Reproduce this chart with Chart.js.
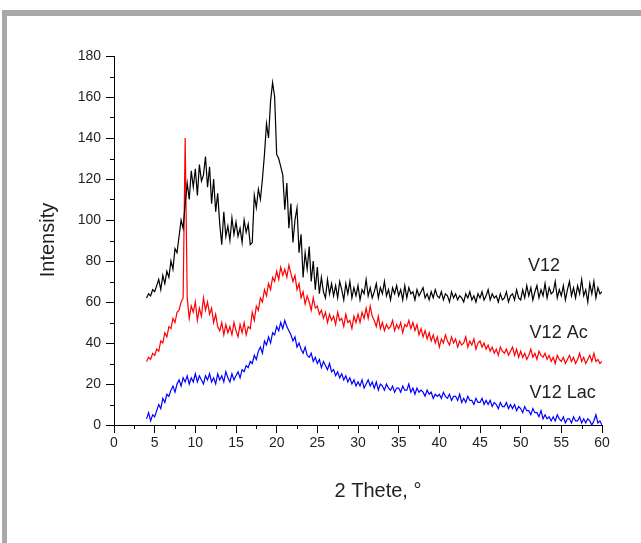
<!DOCTYPE html>
<html>
<head>
<meta charset="utf-8">
<script src="https://cdn.jsdelivr.net/npm/chart.js@4"></script>
<style>
    html, body { margin: 0; padding: 0; background: #ffffff; }
    #wrap { position: relative; width: 641px; height: 543px; overflow: hidden; }
    #frame {
        position: absolute; left: 2px; top: 10px; right: -10px; bottom: -10px;
        border-top: 6px solid #a7a9ac; border-left: 5px solid #a7a9ac;
    }
    canvas { position: absolute; left: 0; top: 0; }
</style>
</head>
<body>
<div id="wrap">
    <div id="frame"></div>
    <canvas id="xrd" width="641" height="543"></canvas>
</div>
<script>
// 2-theta sampling grid: 4 .. 60 deg, 0.25 deg step
const thetaStart = 4;
const thetaStep = 0.25;

// V12 (black) - 4 values per degree
const v12 = [
    62, 64, 63, 66,   65, 68, 71, 66,   73, 69, 75, 72,   80, 76, 86, 84,
    92, 100, 96, 108, 118, 110, 124, 116, 125, 112, 127, 119, 122, 131, 116, 126,
    108, 120, 104, 113, 98, 88, 104, 92, 97, 90, 101, 93,  99, 92, 96, 89,
    100, 94, 98, 88,  89, 112, 106, 115, 110, 120, 132, 147, 140, 158, 167, 160,
    132, 130, 126, 122, 105, 118, 96, 108, 89, 100, 106, 84, 93, 72, 84, 76,
    87, 70, 80, 66,   77, 64, 72, 65,   62, 71, 64, 69,   63, 68, 62, 70,
    66, 61, 69, 64,   70, 62, 67, 63,   68, 61, 66, 64,   71, 63, 67, 62,
    65, 69, 62, 67,   64, 70, 63, 66,   61, 67, 64, 68,   63, 66, 61, 68,
    62, 67, 64, 65,   61, 66, 63, 65,   67, 62, 64, 61,   65, 62, 66, 63,
    62, 65, 61, 64,   63, 60, 65, 62,   64, 61, 63, 62,   60, 64, 62, 65,
    61, 63, 60, 64,   62, 65, 61, 63,   66, 61, 64, 62,   63, 60, 64, 61,
    62, 65, 60, 63,   64, 61, 66, 62,   61, 66, 62, 68,   63, 67, 61, 65,
    68, 62, 66, 63,   69, 62, 67, 64,   65, 70, 62, 66,   63, 68, 61, 66,
    70, 63, 67, 62,   68, 64, 71, 63,   66, 60, 69, 64,   70, 62, 67, 64,
    65
];

// V12 Ac (red)
const v12Ac = [
    31, 33, 32, 35,   34, 37, 36, 41,   40, 45, 43, 48,   47, 52, 50, 55,
    56, 60, 62, 140,  62, 52, 58, 55,   60, 51, 57, 53,   62, 56, 60, 54,
    57, 50, 54, 48,   46, 50, 44, 49,   45, 48, 44, 50,   46, 43, 49, 45,
    50, 44, 48, 47,   55, 51, 58, 56,   62, 60, 66, 63,   69, 66, 72, 70,
    75, 71, 77, 73,   76, 72, 78, 74,   70, 73, 66, 69,   62, 65, 59, 63,
    60, 56, 62, 57,   58, 54, 56, 52,   55, 50, 54, 51,   53, 49, 55, 51,
    52, 48, 54, 50,   51, 47, 53, 50,   54, 50, 55, 52,   57, 52, 58, 53,
    51, 48, 53, 47,   50, 46, 49, 47,   48, 51, 46, 49,   47, 50, 45, 49,
    48, 51, 47, 50,   46, 49, 44, 47,   43, 46, 42, 45,   41, 44, 40, 43,
    38, 42, 40, 44,   41, 39, 43, 40,   42, 38, 41, 39,   40, 43, 38, 41,
    39, 42, 37, 40,   41, 38, 40, 37,   39, 36, 38, 35,   37, 34, 38, 36,
    35, 37, 34, 36,   38, 34, 37, 33,   36, 33, 35, 32,   34, 37, 33, 35,
    32, 36, 34, 33,   35, 32, 34, 31,   33, 30, 34, 32,   31, 33, 30, 32,
    34, 31, 33, 30,   32, 35, 31, 33,   30, 32, 34, 31,   35, 31, 32, 30,
    31
];

// V12 Lac (blue)
const v12Lac = [
    3, 6, 2, 5,       4, 7, 10, 8,      13, 11, 15, 14,   17, 19, 16, 20,
    22, 19, 23, 21,   24, 20, 23, 21,   25, 21, 24, 22,   20, 24, 22, 25,
    21, 23, 20, 25,   22, 24, 21, 26,   23, 21, 25, 22,   24, 26, 23, 27,
    26, 29, 28, 31,   30, 34, 32, 36,   38, 35, 41, 39,   43, 40, 45, 44,
    48, 46, 50, 47,   51, 48, 46, 44,   41, 43, 38, 40,   37, 35, 38, 34,
    33, 35, 31, 33,   30, 32, 28, 31,   29, 27, 30, 26,   27, 24, 26, 23,
    25, 22, 24, 21,   23, 20, 22, 19,   21, 19, 22, 18,   20, 22, 19, 21,
    18, 21, 17, 20,   19, 17, 20, 18,   17, 19, 16, 18,   18, 16, 19, 17,
    17, 20, 16, 18,   15, 18, 16, 17,   16, 14, 17, 15,   16, 13, 15, 14,
    15, 13, 16, 14,   13, 15, 12, 14,   14, 12, 15, 11,   13, 11, 14, 12,
    12, 10, 13, 11,   11, 13, 10, 12,   10, 12, 9, 11,    10, 8, 11, 9,
    9, 11, 8, 10,     8, 10, 7, 9,      8, 6, 9, 7,       7, 5, 8, 6,
    6, 4, 7, 3,       5, 3, 4, 2,       4, 2, 5, 3,       2, 4, 1, 3,
    3, 1, 4, 2,       2, 4, 1, 3,       1, 3, 2, 0,       2, 5, 1, 2,
    0
];

const seriesLabels = ['V12', 'V12 Ac', 'V12 Lac'];

const toPoints = (values) => values.map((y, i) => ({ x: thetaStart + i * thetaStep, y }));

const FONT = "'Liberation Sans', Arial, sans-serif";
const TEXT = '#231f20';

// minor ticks + axis titles + curve labels
const extras = {
    id: 'extras',
    afterDraw(chart) {
        const { ctx, scales: { x, y }, chartArea } = chart;
        ctx.save();
        ctx.strokeStyle = '#000';
        ctx.lineWidth = 1;
        ctx.beginPath();
        for (let v = 10; v < 180; v += 20) {
            const py = Math.round(y.getPixelForValue(v)) + 0.5;
            ctx.moveTo(chartArea.left, py);
            ctx.lineTo(chartArea.left - 4, py);
        }
        for (let v = 2.5; v < 60; v += 5) {
            const px = Math.round(x.getPixelForValue(v)) + 0.5;
            ctx.moveTo(px, chartArea.bottom);
            ctx.lineTo(px, chartArea.bottom + 4);
        }
        ctx.stroke();

        ctx.fillStyle = TEXT;
        ctx.font = '20px ' + FONT;
        ctx.textAlign = 'center';
        ctx.textBaseline = 'middle';
        ctx.fillText('2 Thete, \u00b0', 378, 491);

        ctx.save();
        ctx.translate(48, 240);
        ctx.rotate(-Math.PI / 2);
        ctx.fillText('Intensity', 0, 0);
        ctx.restore();

        ctx.font = '18px ' + FONT;
        ctx.textAlign = 'left';
        const spots = [[50.9, 77.6], [51.1, 44.9], [51.1, 15.6]];
        seriesLabels.forEach((label, i) => {
            ctx.fillText(label, x.getPixelForValue(spots[i][0]), y.getPixelForValue(spots[i][1]));
        });
        ctx.restore();
    }
};

const line = (label, values, color) => ({
    label,
    data: toPoints(values),
    borderColor: color,
    borderWidth: 1.2,
    pointRadius: 0,
    tension: 0,
    fill: false,
});

new Chart(document.getElementById('xrd'), {
    type: 'line',
    data: {
        datasets: [
            line(seriesLabels[0], v12, '#000000'),
            line(seriesLabels[1], v12Ac, '#ff0000'),
            line(seriesLabels[2], v12Lac, '#0000ff'),
        ]
    },
    options: {
        responsive: false,
        animation: false,
        layout: { padding: { left: 0, top: 56, right: 39, bottom: 0 } },
        scales: {
            x: {
                type: 'linear',
                min: 0, max: 60,
                afterFit: (s) => { s.height = 118; },
                border: { display: true, color: '#000', width: 1 },
                grid: { drawOnChartArea: false, drawTicks: true, tickLength: 8, color: '#000' },
                ticks: { stepSize: 5, color: TEXT, padding: 2, maxRotation: 0, font: { family: FONT, size: 14 } },
            },
            y: {
                min: 0, max: 180,
                afterFit: (s) => { s.width = 114; },
                border: { display: true, color: '#000', width: 1 },
                grid: { drawOnChartArea: false, drawTicks: true, tickLength: 8, color: '#000' },
                ticks: { stepSize: 20, color: TEXT, padding: 5, font: { family: FONT, size: 14 } },
            }
        },
        plugins: {
            legend: { display: false },
            tooltip: { enabled: false },
        },
    },
    plugins: [extras],
});
</script>
</body>
</html>
